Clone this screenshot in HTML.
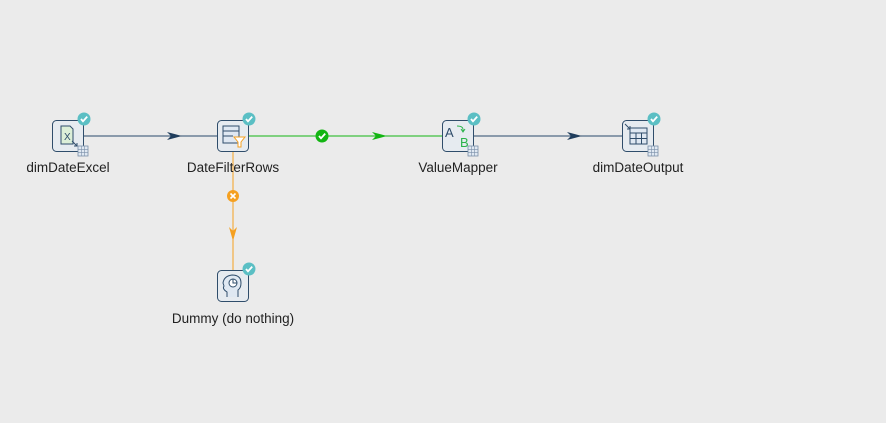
<!DOCTYPE html>
<html><head><meta charset="utf-8"><style>
html,body{margin:0;padding:0;background:#ebebeb;width:886px;height:423px;overflow:hidden}
text{font-family:"Liberation Sans",sans-serif;font-size:13.5px;fill:#222}
</style></head><body>
<svg width="886" height="423" viewBox="0 0 886 423" xmlns="http://www.w3.org/2000/svg">
<rect width="886" height="423" fill="#ebebeb"/>
<defs>
<g id="chk"><circle r="6.5" fill="#5bbfc4"/><path d="M-3,0 L-1,2.3 L3.2,-2.4" stroke="#fff" stroke-width="1.8" fill="none"/></g>
<g id="tbl"><rect x="-5" y="-5" width="10" height="10" fill="#dfe8f2" stroke="#7a8fa8" stroke-width="0.8"/><path d="M-5,-1.7H5M-5,1.7H5M-1.7,-5V5M1.7,-5V5" stroke="#7a8fa8" stroke-width="0.6"/></g>
</defs>
<line x1="84" y1="136" x2="217" y2="136" stroke="#2a4a6b" stroke-width="1"/>
<path d="M167,132 L182,136 L167,140 L171,136Z" fill="#1f3d5c"/>
<line x1="249" y1="136" x2="442" y2="136" stroke="#13b513" stroke-width="1"/>
<path d="M372,132 L387,136 L372,140 L376,136Z" fill="#13b513"/>
<circle cx="322" cy="136" r="6.5" fill="#13b513"/><path d="M319,136 L321,138.3 L325.2,133.6" stroke="#fff" stroke-width="1.8" fill="none"/>
<line x1="474" y1="136" x2="622" y2="136" stroke="#2a4a6b" stroke-width="1"/>
<path d="M567,132 L582,136 L567,140 L571,136Z" fill="#1f3d5c"/>
<line x1="233" y1="152" x2="233" y2="270" stroke="#f5a020" stroke-width="1"/>
<path d="M229,227 L233,241 L237,227 L233,231Z" fill="#f5a020"/>
<circle cx="233" cy="196" r="6" fill="#f5a020"/><path d="M230.5,193.5 L235.5,198.5 M235.5,193.5 L230.5,198.5" stroke="#fff" stroke-width="1.6"/>
<g fill="#e6ebf0" stroke="#2f4d6b" stroke-width="1">
<rect x="52.5" y="120.5" width="31" height="31" rx="4"/>
<rect x="217.5" y="120.5" width="31" height="31" rx="4"/>
<rect x="442.5" y="120.5" width="31" height="31" rx="4"/>
<rect x="622.5" y="120.5" width="31" height="31" rx="4"/>
<rect x="217.5" y="270.5" width="31" height="31" rx="4"/>
</g>
<path d="M61,126 H70 L73,129 V144 H61Z" fill="#dcefd8" stroke="#2f4d6b" stroke-width="1"/>
<text x="64" y="140" style="font-size:10px;fill:#2f4d6b">X</text>
<path d="M72,141 L77,146 M77,143 V146 H74" stroke="#2f4d6b" stroke-width="1" fill="none"/>
<use href="#tbl" x="83" y="151"/>
<rect x="223" y="126" width="16" height="17" fill="#dfe8f2" stroke="#2f4d6b"/>
<path d="M223,131H239M223,136H233" stroke="#2f4d6b"/>
<path d="M234,137 H245 L241,142 V147 H238 V142Z" fill="#fff" stroke="#f5a020"/>
<text x="445" y="137" style="font-size:13px;fill:#2f4d6b">A</text>
<text x="460" y="147" style="font-size:13px;fill:#2ab34a">B</text>
<path d="M457,126 Q464,126 463,131 M461,129 L463,132 L465,129" stroke="#2ab34a" fill="none"/>
<use href="#tbl" x="473" y="151"/>
<rect x="630" y="128" width="17" height="16" fill="#dfe8f2" stroke="#2f4d6b"/>
<path d="M630,133H647M630,138.5H647M636,133V144M641.5,133V144" stroke="#2f4d6b"/>
<path d="M625,124 L630,129 M630,126 V129 H627" stroke="#2f4d6b" fill="none"/>
<use href="#tbl" x="653" y="151"/>
<path d="M227,297 V292 Q222,289 224,286 L223,283 Q224,276 232,275 Q241,275 241,283 Q241,288 238,290 V297" fill="#dfe8f2" stroke="#2f4d6b"/>
<circle cx="233" cy="283" r="4" fill="#fff" stroke="#2f4d6b"/>
<path d="M233,279V283H237" stroke="#2f4d6b" fill="none"/>
<use href="#chk" x="84" y="119"/>
<use href="#chk" x="249" y="119"/>
<use href="#chk" x="474" y="119"/>
<use href="#chk" x="654" y="119"/>
<use href="#chk" x="249" y="269"/>
<text x="68" y="172" text-anchor="middle">dimDateExcel</text>
<text x="233" y="172" text-anchor="middle">DateFilterRows</text>
<text x="458" y="172" text-anchor="middle">ValueMapper</text>
<text x="638" y="172" text-anchor="middle">dimDateOutput</text>
<text x="233" y="323" text-anchor="middle">Dummy (do nothing)</text>
</svg>
</body></html>
